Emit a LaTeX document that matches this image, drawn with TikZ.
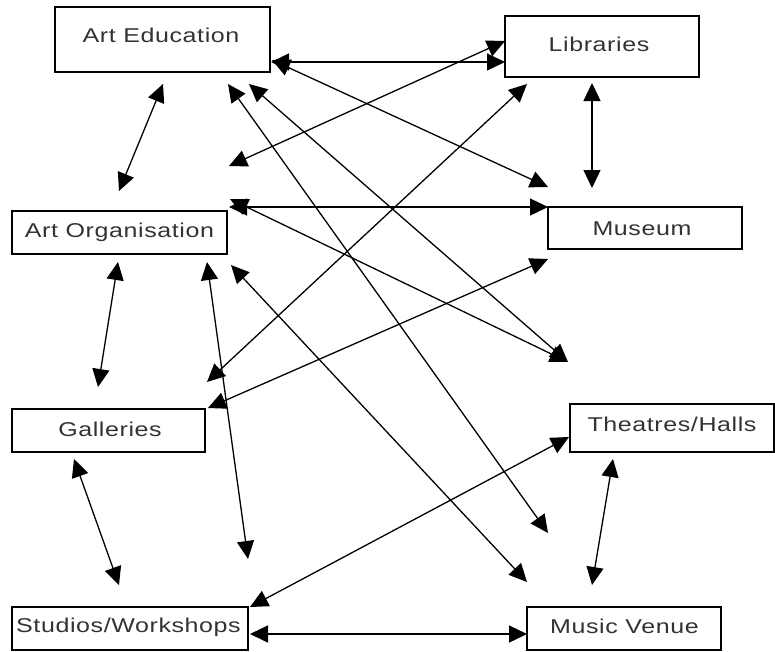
\documentclass[tikz,border=0pt]{standalone}
\usepackage{fontspec}
\setmainfont{Liberation Sans}[FakeStretch=1.25,LetterSpace=3]
\usetikzlibrary{arrows.meta}
\begin{document}
\begin{tikzpicture}[x=1pt,y=-1pt,
  boxline/.style={draw=black,line width=1.2pt},
  lbl/.style={anchor=base,inner sep=0pt,text=black!80,font=\fontsize{20}{24}\selectfont},
  link/.style={line width=1.3pt,{Triangle[length=18pt,width=17pt]}-{Triangle[length=18pt,width=17pt]}}]
\useasboundingbox[fill=white] (0,0) rectangle (775,651);
% boxes
\path[boxline] (55,7) rectangle (270,72);
\path[boxline] (505,16) rectangle (699,77);
\path[boxline] (548,207) rectangle (742,249);
\path[boxline] (12,211) rectangle (227,254);
\path[boxline] (12,409) rectangle (205,452);
\path[boxline] (12,607) rectangle (248,650);
\path[boxline] (570,404) rectangle (774,452);
\path[boxline] (527,607) rectangle (721,650);
% labels
\node[lbl] (ae) at (161,42) {Art Education};
\node[lbl] (lib) at (599,51) {Libraries};
\node[lbl] (mus) at (642,235) {Museum};
\node[lbl] (ao) at (119.5,237) {Art Organisation};
\node[lbl] (gal) at (110,436) {Galleries};
\node[lbl] (stu) at (128.5,632) {Studios/Workshops};
\node[lbl] (thea) at (672,431) {Theatres/Halls};
\node[lbl] (mv) at (624.5,633) {Music Venue};
% connector end points
\coordinate (ae1) at (163,84);  \coordinate (ao1) at (119,191);
\coordinate (ae2) at (271,62);  \coordinate (lib2) at (505,62);
\coordinate (ae3) at (272,60);  \coordinate (mus3) at (548,187);
\coordinate (lib4) at (505,41); \coordinate (ao4) at (229,166);
\coordinate (lib5) at (527,84); \coordinate (gal5) at (207,382);
\coordinate (lib6) at (592,83); \coordinate (mus6) at (592,188);
\coordinate (ae7) at (228,84);  \coordinate (mv7) at (548,533);
\coordinate (ae8) at (249,84);  \coordinate (th8) at (568,362);
\coordinate (ao9) at (230,199); \coordinate (th9) at (568,362);
\coordinate (ao10) at (229,207); \coordinate (mus10) at (548,207);
\coordinate (ao11) at (231,265); \coordinate (mv11) at (527,582);
\coordinate (ao12) at (118,262); \coordinate (gal12) at (98,387);
\coordinate (ao13) at (207,262); \coordinate (stu13) at (248,559);
\coordinate (mus14) at (548,259); \coordinate (gal14) at (208,408);
\coordinate (gal15) at (74,459); \coordinate (stu15) at (119,585);
\coordinate (stu16) at (250,607); \coordinate (th16) at (569,437);
\coordinate (stu17) at (250,634); \coordinate (mv17) at (527,634);
\coordinate (th18) at (613,459); \coordinate (mv18) at (592,585);
% connectors
\draw[link] (ae1) -- (ao1);
\draw[link] (ae2) -- (lib2);
\draw[link] (ae3) -- (mus3);
\draw[link] (lib4) -- (ao4);
\draw[link] (lib5) -- (gal5);
\draw[link] (lib6) -- (mus6);
\draw[link] (ae7) -- (mv7);
\draw[link] (ae8) -- (th8);
\draw[link] (ao9) -- (th9);
\draw[link] (ao10) -- (mus10);
\draw[link] (ao11) -- (mv11);
\draw[link] (ao12) -- (gal12);
\draw[link] (ao13) -- (stu13);
\draw[link] (mus14) -- (gal14);
\draw[link] (gal15) -- (stu15);
\draw[link] (stu16) -- (th16);
\draw[link] (stu17) -- (mv17);
\draw[link] (th18) -- (mv18);
\end{tikzpicture}
\end{document}
